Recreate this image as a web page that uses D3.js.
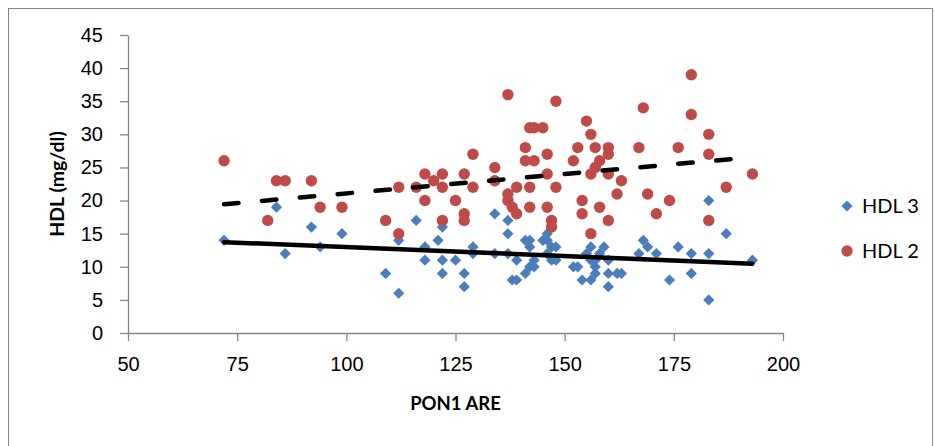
<!DOCTYPE html>
<html>
<head>
<meta charset="utf-8">
<script src="https://cdn.jsdelivr.net/npm/d3@7"></script>
<style>
  body { margin: 0; background: #fff; }
  svg { display: block; font-family: Lato, "Open Sans", sans-serif; }
</style>
</head>
<body>
<div id="chart"></div>
<script>
// HDL 3 (blue diamonds): [PON1 ARE, HDL]
const hdl3 = [
  [72,14],[84,19],[86,12],[92,16],[94,13],[99,15],[109,9],[112,14],[112,6],[116,17],
  [118,13],[118,11],[121,14],[122,16],[122,11],[122,9],[125,11],[127,9],[127,7],[129,13],
  [129,12],[134,18],[134,12],[137,17],[137,15],[137,12],[138,8],[139,11],[139,8],[141,14],
  [141,9],[142,14],[142,13],[142,10],[143,11],[143,10],[145,14],[146,15],[146,14],[146,12],
  [147,13],[147,11],[148,13],[148,11],[152,10],[153,10],[154,8],[155,12],[156,13],[156,11],
  [156,8],[157,11],[157,10],[157,9],[158,12],[159,13],[160,11],[160,9],[160,7],[162,9],
  [163,9],[167,12],[168,14],[169,13],[171,12],[174,8],[176,13],[179,12],[179,9],[183,20],
  [183,12],[183,5],[187,15],[193,11]
];

// HDL 2 (red circles)
const hdl2 = [
  [72,26],[82,17],[84,23],[86,23],[92,23],[94,19],[99,19],[109,17],[112,22],[112,15],
  [116,22],[118,24],[118,20],[120,23],[122,24],[122,22],[122,17],[125,20],[127,24],[127,18],
  [127,17],[129,27],[129,22],[134,25],[134,23],[137,36],[137,21],[137,20],[138,19],[139,22],
  [139,18],[141,28],[141,26],[142,31],[142,22],[142,19],[143,31],[143,26],[145,31],[146,27],
  [146,24],[146,19],[147,17],[147,16],[148,35],[148,22],[152,26],[153,28],[154,20],[154,18],
  [155,32],[156,30],[156,24],[156,15],[157,28],[157,25],[158,26],[158,19],[160,28],[160,27],
  [160,24],[160,17],[162,21],[163,23],[167,28],[168,34],[169,21],[171,18],[174,20],[176,28],
  [179,39],[179,33],[183,30],[183,27],[183,17],[187,22],[193,24]
];

const xTicks = [50, 75, 100, 125, 150, 175, 200];
const yTicks = [0, 5, 10, 15, 20, 25, 30, 35, 40, 45];
const seriesNames = ["HDL 3", "HDL 2"];

const width = 935, height = 446;
const blue = "#4a7ebb", red = "#be4b48", axisGray = "#868686";

const svg = d3.select("#chart").append("svg")
    .attr("width", width)
    .attr("height", height);

// chart border
svg.append("rect")
    .attr("x", 8.5).attr("y", 8.5)
    .attr("width", 924).attr("height", 450)
    .attr("fill", "none")
    .attr("stroke", axisGray)
    .attr("stroke-width", 1);

const x = d3.scaleLinear().domain([50, 200]).range([128, 783]);
const y = d3.scaleLinear().domain([0, 45]).range([333, 35]);

// axes
const yAxis = svg.append("g")
    .attr("transform", "translate(128,0)")
    .call(d3.axisLeft(y).tickValues(yTicks).tickSize(8).tickPadding(17).tickSizeOuter(0));
const xAxis = svg.append("g")
    .attr("transform", "translate(0,333)")
    .call(d3.axisBottom(x).tickValues(xTicks).tickSize(8).tickPadding(16).tickSizeOuter(0));

[yAxis, xAxis].forEach(g => {
  g.select(".domain").attr("stroke", axisGray).attr("stroke-width", 1.3);
  g.selectAll(".tick line").attr("stroke", axisGray).attr("stroke-width", 1.3);
  g.selectAll(".tick text")
      .attr("fill", "#000")
      .style("font-size", "20px");
});

// axis titles
svg.append("text")
    .attr("x", (x.range()[0] + x.range()[1]) / 2)
    .attr("y", 404)
    .attr("dy", "0.35em")
    .attr("text-anchor", "middle")
    .style("font-size", "18.5px")
    .style("font-weight", "bold")
    .text("PON1 ARE");

svg.append("text")
    .attr("transform", `translate(57,${(y.range()[0] + y.range()[1]) / 2}) rotate(-90)`)
    .attr("dy", "0.35em")
    .attr("text-anchor", "middle")
    .style("font-size", "19.5px")
    .style("font-weight", "bold")
    .text("HDL (mg/dl)");

// least squares fit from the data
function fit(data) {
  const mx = d3.mean(data, d => d[0]), my = d3.mean(data, d => d[1]);
  const b = d3.sum(data, d => (d[0] - mx) * (d[1] - my)) / d3.sum(data, d => (d[0] - mx) ** 2);
  const a = my - b * mx;
  const [x0, x1] = d3.extent(data, d => d[0]);
  return [[x0, a + b * x0], [x1, a + b * x1]];
}

const line = d3.line().x(d => x(d[0])).y(d => y(d[1]));

// markers
const diamond = d3.symbol().type(d3.symbolDiamond2).size(80);
svg.append("g").selectAll("path")
    .data(hdl3)
    .enter().append("path")
    .attr("d", diamond)
    .attr("transform", d => `translate(${x(d[0])},${y(d[1])})`)
    .attr("fill", blue);

svg.append("g").selectAll("circle")
    .data(hdl2)
    .enter().append("circle")
    .attr("cx", d => x(d[0]))
    .attr("cy", d => y(d[1]))
    .attr("r", 5.7)
    .attr("fill", red);

// trend lines
svg.append("path")
    .datum(fit(hdl3))
    .attr("d", line)
    .attr("fill", "none")
    .attr("stroke", "#000")
    .attr("stroke-width", 4.5)
    .attr("stroke-linecap", "round");

svg.append("path")
    .datum(fit(hdl2))
    .attr("d", line)
    .attr("fill", "none")
    .attr("stroke", "#000")
    .attr("stroke-width", 4.5)
    .attr("stroke-linecap", "round")
    .attr("stroke-dasharray", "14.5,23.5");

// legend
const legend = svg.append("g").attr("transform", "translate(847,0)");
legend.append("path")
    .attr("d", diamond)
    .attr("transform", "translate(0,206)")
    .attr("fill", blue);
legend.append("circle")
    .attr("cx", 0).attr("cy", 251).attr("r", 5.7)
    .attr("fill", red);
legend.selectAll("text")
    .data(seriesNames)
    .enter().append("text")
    .attr("x", 15)
    .attr("y", (d, i) => 206 + i * 45)
    .attr("dy", "0.35em")
    .style("font-size", "20px")
    .text(d => d);
</script>
</body>
</html>
